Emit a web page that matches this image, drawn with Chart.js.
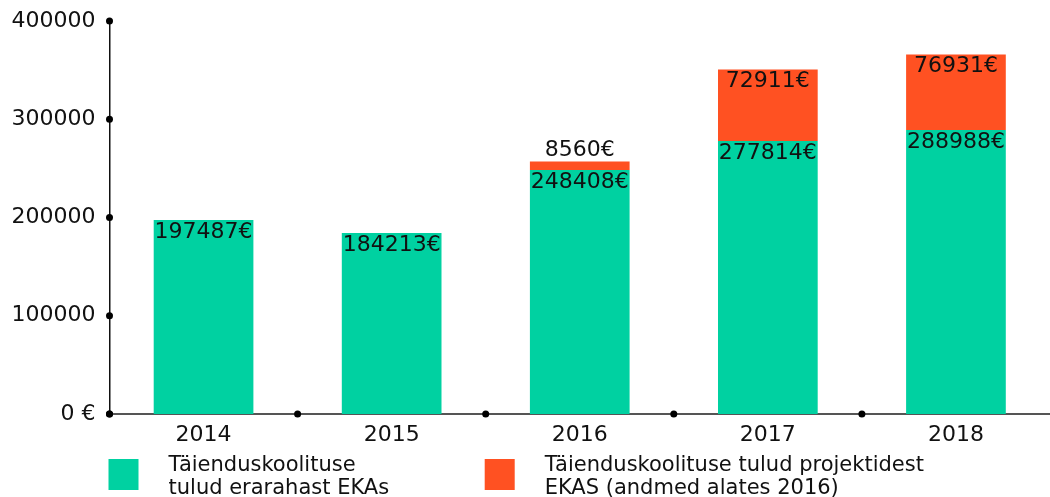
<!DOCTYPE html>
<html>
<head>
<meta charset="utf-8">
<script src="https://cdn.jsdelivr.net/npm/chart.js@4/dist/chart.umd.min.js"></script>
<style>
body{margin:0;background:#fff;}
canvas{display:block;}
</style>
</head>
<body>
<canvas id="incomeChart" width="1050" height="497"></canvas>
<script>
const years = ["2014","2015","2016","2017","2018"];
const privateIncome = [197487,184213,248408,277814,288988];
const projectIncome = [null,null,8560,72911,76931];
const yTicks = [0,100000,200000,300000,400000];
const seriesNames = ["Täienduskoolituse tulud erarahast EKAs","Täienduskoolituse tulud projektidest EKAS (andmed alates 2016)"];
const legendLines = [["Täienduskoolituse","tulud erarahast EKAs"],["Täienduskoolituse tulud projektidest","EKAS (andmed alates 2016)"]];
const colors = ["#00D1A1","#FF5122"];

const FONT = "DejaVu Sans";
const TEXT = "#111";

// dots on the axes + value labels + legend
const extras = {
  id:"extras",
  afterDatasetsDraw(chart){
    const ctx = chart.ctx;
    const y = chart.scales.y;
    const area = chart.chartArea;

    // value labels
    ctx.save();
    ctx.font = "22px '"+FONT+"'";
    ctx.fillStyle = TEXT;
    ctx.textAlign = "center";
    ctx.textBaseline = "middle";
    chart.data.datasets.forEach((ds,i)=>{
      chart.getDatasetMeta(i).data.forEach((bar,j)=>{
        let v = ds.data[j];
        if(v==null) return;
        let h = bar.base - bar.y;
        let ty = h > 26 ? bar.y + 12 : bar.y - 11;
        ctx.fillText(v+"€", bar.x, ty);
      });
    });
    ctx.restore();

    // dots
    ctx.save();
    ctx.fillStyle = "#000";
    yTicks.forEach(t=>{
      ctx.beginPath();
      ctx.arc(area.left, y.getPixelForValue(t), 3.5, 0, Math.PI*2);
      ctx.fill();
    });
    let step = (area.right - area.left)/years.length;
    for(let i=0;i<years.length;i++){
      ctx.beginPath();
      ctx.arc(area.left + i*step, area.bottom, 3.5, 0, Math.PI*2);
      ctx.fill();
    }
    ctx.restore();

    // legend
    ctx.save();
    ctx.font = "21px '"+FONT+"'";
    ctx.textBaseline = "middle";
    [0,2].forEach((k,i)=>{
      let lx = area.left - 1 + k*step;
      let ly = area.bottom + 45;
      ctx.fillStyle = colors[i];
      ctx.fillRect(lx, ly, 30, 31);
      ctx.fillStyle = TEXT;
      legendLines[i].forEach((line,n)=>{
        ctx.fillText(line, lx + 60, ly + 7 + n*23);
      });
    });
    ctx.restore();
  }
};

new Chart(document.getElementById("incomeChart"),{
  type:"bar",
  data:{
    labels:years,
    datasets:[
      {label:seriesNames[0], data:privateIncome, backgroundColor:colors[0], barPercentage:0.53, categoryPercentage:1},
      {label:seriesNames[1], data:projectIncome, backgroundColor:colors[1], barPercentage:0.53, categoryPercentage:1}
    ]
  },
  options:{
    responsive:false,
    animation:false,
    devicePixelRatio:1,
    layout:{padding:{top:21,right:0,left:0,bottom:0}},
    plugins:{
      legend:{display:false},
      tooltip:{enabled:false}
    },
    scales:{
      x:{
        stacked:true,
        grid:{display:false},
        border:{color:"#555",width:2},
        ticks:{font:{family:FONT,size:22},color:TEXT,padding:0},
        afterFit:s=>{s.height = 83;}
      },
      y:{
        stacked:true,
        min:0,
        max:400000,
        grid:{display:false,drawTicks:false},
        border:{color:"#111",width:1.5},
        ticks:{
          stepSize:100000,
          padding:14,
          font:{family:FONT,size:22},
          color:TEXT,
          callback:v=>v===0?"0 €":v
        },
        afterFit:s=>{s.width = 109.5; s.paddingTop = 0; s.paddingBottom = 0;}
      }
    }
  },
  plugins:[extras]
});
</script>
</body>
</html>
